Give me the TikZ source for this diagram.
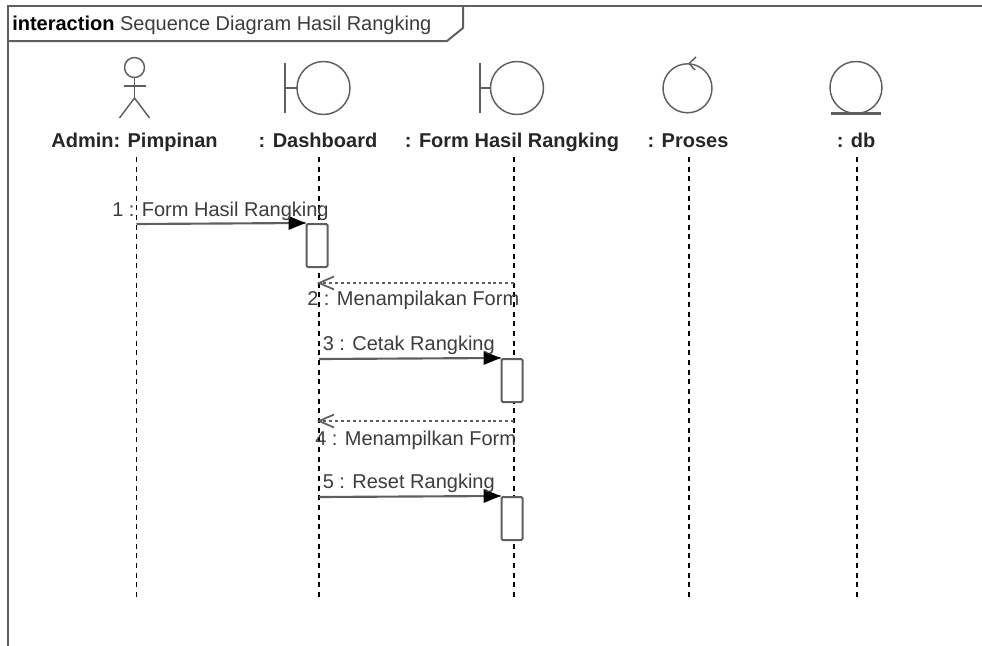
\documentclass[tikz,border=0pt]{standalone}
\usepackage{fontspec}
\setmainfont{Liberation Sans}
\usetikzlibrary{arrows,positioning}

\definecolor{linegray}{RGB}{95,95,95}
\definecolor{textgray}{RGB}{60,60,60}

\tikzset{
	framel/.style={linegray, line width=1.5pt},
	icon/.style={linegray, line width=1.1pt},
	lifeline/.style={black, line width=0.8pt, dash pattern=on 3.75pt off 3.5pt},
	msgline/.style={linegray, line width=1.6pt},
	retline/.style={linegray, line width=1.3pt, dash pattern=on 2.2pt off 2.2pt},
	rethead/.style={linegray, line width=1.3pt},
	actbox/.style={draw=linegray, line width=1.5pt, fill=white, rounded corners=1pt, inner sep=0pt, minimum width=15.75pt, minimum height=32.25pt},
	headlbl/.style={font=\fontsize{15}{18}\selectfont\bfseries, text=black!85, inner sep=0pt, anchor=base},
	msglbl/.style={font=\fontsize{15}{18}\selectfont, text=textgray, inner sep=0pt, anchor=base west}
}

\begin{document}
\begin{tikzpicture}[x=0.75pt,y=0.75pt,yscale=-1]
	\useasboundingbox (0,0) rectangle (982,646);
	
	%frame
	\draw [framel]   (8,646) -- (8,6) -- (982,6) ;
	\draw [framel]   (8,41) -- (447,41) -- (463,28) -- (463,6) ;
	\node [anchor=base west, inner sep=0pt, font=\fontsize{15}{18}\selectfont] (title) at (12,30) {\textbf{interaction} \textcolor{textgray}{Sequence Diagram Hasil Rangking}};
	
	%actor
	\draw [icon]   (134.5,67.5) circle [radius=10] ;
	\draw [icon]   (134.5,77.5) -- (134.5,98) ;
	\draw [icon]   (123.5,86) -- (145.5,86) ;
	\draw [icon]   (119.5,118) -- (134.5,98) -- (149.5,118) ;
	
	%boundary
	\draw [icon]   (285,63) -- (285,113) (285,88) -- (297,88) ;
	\draw [icon]   (323.5,88) circle [radius=26.5] ;
	\draw [icon]   (480,63) -- (480,113) (480,88) -- (491,88) ;
	\draw [icon]   (517,88) circle [radius=26.5] ;
	
	%control
	\draw [icon]   (687.5,88.3) circle [radius=24.5] ;
	\draw [icon]   (696,57) -- (689,63.5) -- (695,70) ;
	
	%entity
	\draw [icon]   (856,87.5) circle [radius=26] ;
	\draw [linegray, line width=2pt]   (831,113.5) -- (881,113.5) ;
	
	%heads
	\node [headlbl] (admin) at (134.5,147) {Admin: Pimpinan};
	\node [headlbl] (dash) at (318,147) {: Dashboard};
	\node [headlbl] (form) at (512,147) {: Form Hasil Rangking};
	\node [headlbl] (proses) at (688,147) {: Proses};
	\node [headlbl] (db) at (856,147) {: db};
	
	%lifelines
	\foreach \n/\x in {admin/136.5, dash/319, form/514, proses/689, db/857}{
		\coordinate (\n Top) at (\x,157);
		\coordinate (\n Bot) at (\x,598);
		\draw [lifeline]   (\n Top) -- (\n Bot) ;
	}
	
	%activations
	\node [actbox] (act1) at (317,245.5) {};
	\node [actbox] (act2) at (512,380.5) {};
	\node [actbox] (act3) at (512,518.5) {};
	
	%1
	\coordinate (m1) at (136.5,224);
	\draw [msgline]   (m1) -- (act1.north west) ;
	\fill [black, shift={(act1.north west)}, rotate=180]   (0,0) -- (17,-7) -- (17,7) -- cycle ;
	\node [msglbl] (l1) at (112,216) {1 : Form Hasil Rangking};
	
	%2
	\coordinate (r2a) at (514,283);
	\coordinate (r2b) at (319,283);
	\draw [retline]   (r2a) -- (r2b) ;
	\draw [rethead, shift={(r2b)}]   (15,-6.5) -- (0,0) -- (15,6.5) ;
	\node [msglbl] (l2) at (307,305) {2 : Menampilakan Form};
	
	%3
	\coordinate (m3) at (319,359);
	\draw [msgline]   (m3) -- (act2.north west) ;
	\fill [black, shift={(act2.north west)}, rotate=180]   (0,0) -- (17,-7) -- (17,7) -- cycle ;
	\node [msglbl] (l3) at (322.5,350) {3 : Cetak Rangking};
	
	%4
	\coordinate (r4a) at (514,421);
	\coordinate (r4b) at (319,421);
	\draw [retline]   (r4a) -- (r4b) ;
	\draw [rethead, shift={(r4b)}]   (15,-6.5) -- (0,0) -- (15,6.5) ;
	\node [msglbl] (l4) at (315,445) {4 : Menampilkan Form};
	
	%5
	\coordinate (m5) at (319,497);
	\draw [msgline]   (m5) -- (act3.north west) ;
	\fill [black, shift={(act3.north west)}, rotate=180]   (0,0) -- (17,-7) -- (17,7) -- cycle ;
	\node [msglbl] (l5) at (322.5,488) {5 : Reset Rangking};
	
\end{tikzpicture}
\end{document}
